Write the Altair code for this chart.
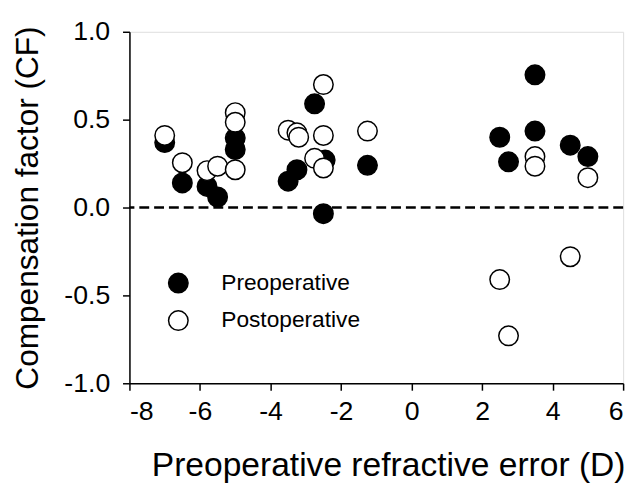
import altair as alt
import pandas as pd

pre_x = [-7.0, -6.5, -5.8, -5.5, -5.0, -5.0, -3.5, -3.25, -2.75, -2.45, -2.5, -1.25, 2.5, 2.75, 3.5, 3.5, 4.5, 5.0]
pre_y = [0.37, 0.14, 0.12, 0.06, 0.395, 0.33, 0.15, 0.215, 0.59, 0.27, -0.035, 0.24, 0.40, 0.26, 0.755, 0.435, 0.355, 0.29]
post_x = [-7.0, -6.5, -5.8, -5.5, -5.0, -5.0, -5.0, -3.5, -3.25, -3.2, -2.5, -2.5, -2.75, -2.5, -1.25, 2.5, 2.75, 3.5, 3.5, 4.5, 5.0]
post_y = [0.41, 0.255, 0.21, 0.235, 0.54, 0.485, 0.215, 0.44, 0.425, 0.40, 0.70, 0.41, 0.28, 0.225, 0.435, -0.41, -0.73, 0.29, 0.235, -0.28, 0.17]
groups = ["Preoperative", "Postoperative"]

df = pd.concat([
    pd.DataFrame({"x": pre_x, "y": pre_y, "g": groups[0]}),
    pd.DataFrame({"x": post_x, "y": post_y, "g": groups[1]}),
], ignore_index=True)
df["o"] = range(len(df))

FONT = "Liberation Sans"

xscale = alt.Scale(domain=[-8, 6], nice=False, zero=False)
yscale = alt.Scale(domain=[-1, 1], nice=False, zero=False)

common = dict(grid=False, tickSize=7, labelFont=FONT, titleFont=FONT, titleFontWeight="normal",
              domainColor="black", tickColor="black", labelColor="black", titleColor="black",
              tickWidth=1.5, domainWidth=1.5, labelFontSize=27)

points = alt.Chart(df).mark_point(
    shape="circle", filled=True, size=390, stroke="black", strokeWidth=1.5, opacity=1
).encode(
    x=alt.X("x:Q", scale=xscale,
            axis=alt.Axis(title="Preoperative refractive error (D)", values=[-8, -6, -4, -2, 0, 2, 4, 6],
                          labelExpr="(datum.value < 0 ? '-' : '') + format(abs(datum.value), 'd')",
                          labelPadding=9, titlePadding=24, titleFontSize=34, titleX=262,
                          **common)),
    y=alt.Y("y:Q", scale=yscale,
            axis=alt.Axis(title="Compensation factor (CF)", values=[-1, -0.5, 0, 0.5, 1],
                          labelExpr="(datum.value < 0 ? '-' : '') + format(abs(datum.value), '.1f')",
                          labelPadding=13, titlePadding=20, titleFontSize=32,
                          **common)),
    fill=alt.Fill("g:N", scale=alt.Scale(domain=groups, range=["black", "white"]),
                  legend=alt.Legend(title=None, orient="none", legendX=38, legendY=243,
                                    symbolSize=390, symbolStrokeColor="black", symbolStrokeWidth=1.5,
                                    symbolType="circle", labelFontSize=23, labelFont=FONT,
                                    labelColor="black", rowPadding=11, labelOffset=32)),
    order=alt.Order("o:Q"),
)

zero = pd.DataFrame({"y": [0.0]})
rule = alt.Chart(zero).mark_rule(color="black", strokeWidth=2.5, strokeDash=[10, 5]).encode(
    y=alt.Y("y:Q", scale=yscale)
)

chart = alt.layer(rule, points).properties(
    width=500, height=356,
    autosize=alt.AutoSizeParams(type="none"),
    padding={"left": 123, "top": 21, "right": 10, "bottom": 105},
).configure_view(stroke="black", strokeWidth=1.5).configure(background="white")

chart.save("out.html", embed_options={"renderer": "svg", "actions": False})
